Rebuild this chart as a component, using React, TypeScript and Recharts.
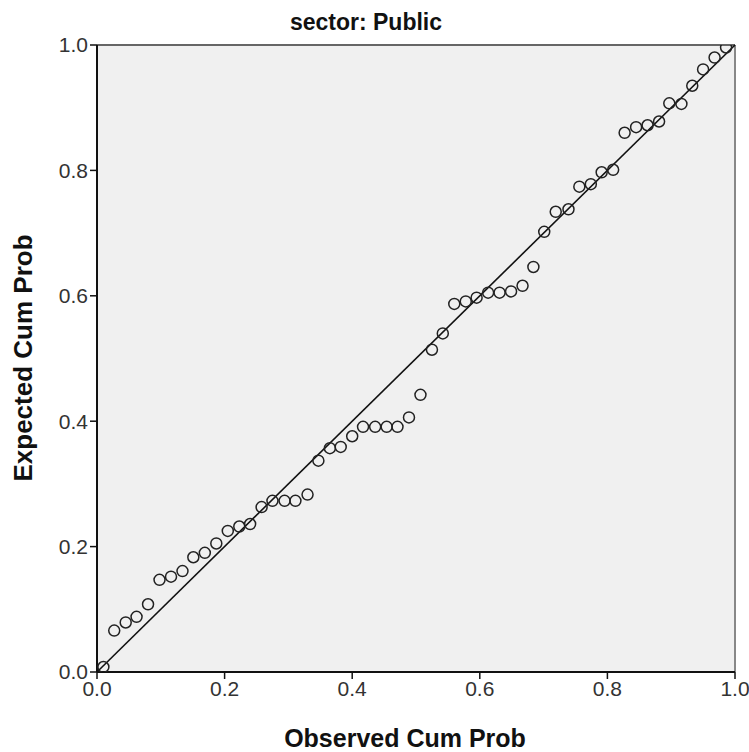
import {
  ScatterChart,
  Scatter,
  XAxis,
  YAxis,
  CartesianGrid,
  ReferenceLine,
} from 'recharts';

const observed = [
  0.01, 0.027, 0.045, 0.062, 0.08, 0.098, 0.116, 0.134, 0.151, 0.169,
  0.187, 0.205, 0.223, 0.24, 0.258, 0.275, 0.294, 0.311, 0.33, 0.347,
  0.365, 0.382, 0.4, 0.417, 0.436, 0.454, 0.471, 0.489, 0.507, 0.525,
  0.542, 0.56, 0.578, 0.595, 0.613, 0.631, 0.649, 0.667, 0.684, 0.701,
  0.719, 0.739, 0.756, 0.774, 0.791, 0.809, 0.827, 0.845, 0.863, 0.881,
  0.897, 0.916, 0.933, 0.95, 0.968, 0.986,
];

// expected cumulative probability (y)
const expected = [
  0.008, 0.066, 0.079, 0.088, 0.108, 0.147, 0.152, 0.161, 0.183, 0.19,
  0.205, 0.225, 0.232, 0.236, 0.263, 0.273, 0.273, 0.273, 0.283, 0.337,
  0.357, 0.359, 0.376, 0.391, 0.391, 0.391, 0.391, 0.406, 0.442, 0.514,
  0.54, 0.587, 0.591, 0.597, 0.605, 0.605, 0.607, 0.616, 0.646, 0.702,
  0.734, 0.738, 0.774, 0.778, 0.797, 0.801, 0.86, 0.869, 0.872, 0.878,
  0.907, 0.906, 0.935, 0.961, 0.98, 0.996,
];

const axisTicks = [0, 0.2, 0.4, 0.6, 0.8, 1.0];
const diagonal = [
  { x: 0, y: 0 },
  { x: 1, y: 1 },
];

const points = observed.map((x, i) => ({ x, y: expected[i] }));

const font = '"Liberation Sans", Arial, sans-serif';

const OpenCircle = (props: any) => {
  const { cx, cy } = props;
  if (cx == null || cy == null) return null;
  return <circle cx={cx} cy={cy} r={5.5} fill="none" stroke="#222" strokeWidth={1.5} />;
};

export default function App() {
  const tickStyle = { fontSize: 21, fill: '#333', fontFamily: font };
  return (
    <div
      style={{
        position: 'absolute',
        left: 0,
        top: 0,
        width: 749,
        height: 752,
        background: '#fff',
        fontFamily: font,
      }}
    >
      <div
        style={{
          position: 'absolute',
          left: 0,
          top: 9,
          width: 732,
          textAlign: 'center',
          fontWeight: 'bold',
          fontSize: 23,
          color: '#111',
        }}
      >
        sector: Public
      </div>
      <div
        style={{
          position: 'absolute',
          left: 23,
          top: 358,
          transform: 'translate(-50%, -50%) rotate(-90deg)',
          whiteSpace: 'nowrap',
          fontWeight: 'bold',
          fontSize: 26,
          color: '#111',
        }}
      >
        Expected Cum Prob
      </div>
      <div
        style={{
          position: 'absolute',
          left: 405,
          top: 738,
          transform: 'translate(-50%, -50%)',
          whiteSpace: 'nowrap',
          fontWeight: 'bold',
          fontSize: 25,
          color: '#111',
        }}
      >
        Observed Cum Prob
      </div>
      <ScatterChart
        width={749}
        height={752}
        margin={{ top: 45, right: 14, left: 0, bottom: 0 }}
        style={{ position: 'absolute', left: 0, top: 0 }}
      >
        <CartesianGrid fill="#f0f0f0" horizontal={false} vertical={false} />
        <XAxis
          type="number"
          dataKey="x"
          domain={[0, 1]}
          ticks={axisTicks}
          tickFormatter={(v: number) => v.toFixed(1)}
          height={80}
          tickSize={7}
          tick={tickStyle}
          axisLine={{ stroke: '#111', strokeWidth: 2 }}
          tickLine={{ stroke: '#111', strokeWidth: 1.5 }}
          allowDataOverflow
        />
        <YAxis
          type="number"
          dataKey="y"
          domain={[0, 1]}
          ticks={axisTicks}
          tickFormatter={(v: number) => v.toFixed(1)}
          width={97}
          tickSize={7}
          tick={tickStyle}
          axisLine={{ stroke: '#111', strokeWidth: 2 }}
          tickLine={{ stroke: '#111', strokeWidth: 1.5 }}
          allowDataOverflow
        />
        <ReferenceLine y={1} stroke="#666" strokeWidth={2} />
        <ReferenceLine x={1} stroke="#888" strokeWidth={2} />
        <ReferenceLine segment={diagonal} stroke="#111" strokeWidth={1.6} />
        <Scatter data={points} shape={OpenCircle} isAnimationActive={false} />
      </ScatterChart>
    </div>
  );
}
